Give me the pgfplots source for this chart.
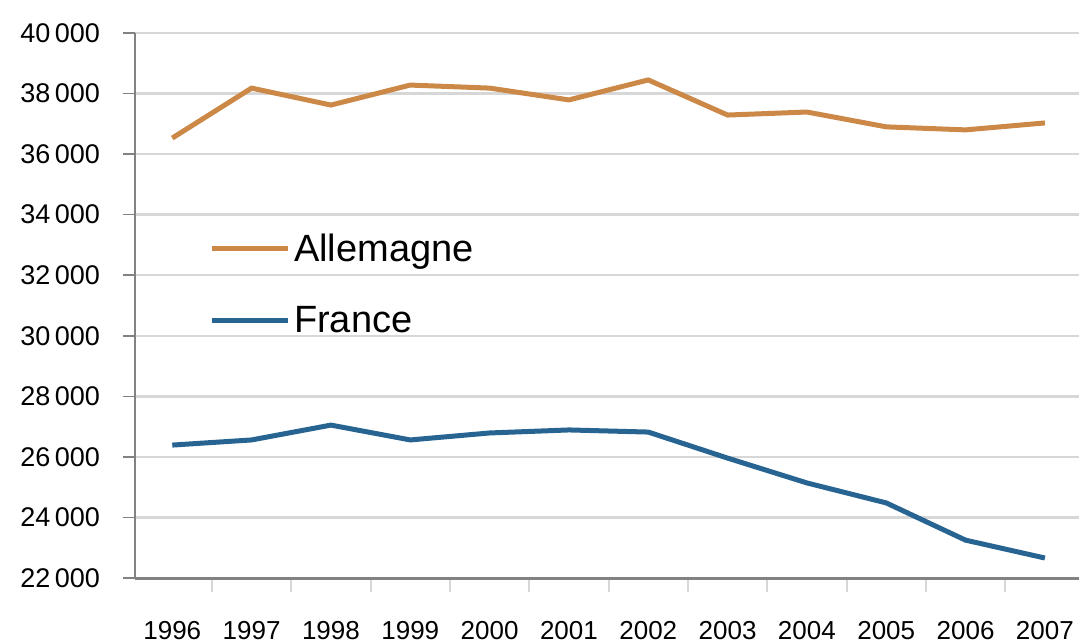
\documentclass[border=0pt]{standalone}
\usepackage{fontspec}
\setmainfont{Liberation Sans}
\usepackage{pgfplots}
\pgfplotsset{compat=1.18}
\definecolor{deorange}{RGB}{204,136,70}
\definecolor{frblue}{RGB}{40,100,145}
\definecolor{gridgray}{RGB}{215,215,215}
\definecolor{axgray}{RGB}{130,130,130}
\begin{document}
\begin{tikzpicture}
\path[use as bounding box] (0,0) rectangle (539.5pt,321.5pt);
\begin{axis}[
  at={(67.5pt,32.5pt)}, anchor=south west,
  scale only axis, width=472pt, height=272.5pt,
  xmin=-0.47, xmax=11.43, ymin=22000, ymax=40000,
  axis x line*=bottom, axis y line*=left,
  x axis line style={draw=axgray, line width=1.5pt, -},
  y axis line style={draw=axgray, line width=0.8pt, -},
  xtick={0,...,11},
  xticklabels={1996,1997,1998,1999,2000,2001,2002,2003,2004,2005,2006,2007},
  minor xtick={0.5,1.5,...,10.5},
  major x tick style={draw=none},
  minor x tick style={draw=gridgray, line width=1pt},
  minor tick length=7pt,
  xticklabel style={font=\fontsize{13}{15}\selectfont, yshift=-12pt},
  ytick={22000,24000,...,40000},
  ytick style={draw=axgray, line width=0.8pt},
  major tick length=6pt,
  tick align=outside,
  yticklabel style={font=\fontsize{13.5}{15}\selectfont, xshift=-8pt},
  /pgf/number format/assume math mode=true,
  /pgf/number format/1000 sep={\,},
  scaled y ticks=false,
  ymajorgrids, grid style={draw=gridgray, line width=1.2pt},
  legend style={draw=none, fill=none, at={(0.078,0.64)}, anchor=north west,
    font=\fontsize{19}{22}\selectfont, row sep=17pt, inner sep=0pt},
  legend cell align=left,
  legend image code/.code={\draw[#1] (0pt,0pt) -- (38pt,0pt);},
  clip=false,
]
\addplot[deorange, line width=2.5pt] coordinates {
 (0,36530) (1,38180) (2,37620) (3,38280) (4,38180) (5,37790)
 (6,38450) (7,37290) (8,37390) (9,36900) (10,36800) (11,37030)};
\addlegendentry{Allemagne}
\addplot[frblue, line width=2.5pt] coordinates {
 (0,26390) (1,26560) (2,27050) (3,26560) (4,26790) (5,26890)
 (6,26820) (7,25960) (8,25140) (9,24480) (10,23250) (11,22660)};
\addlegendentry{France}
\end{axis}
\end{tikzpicture}
\end{document}
